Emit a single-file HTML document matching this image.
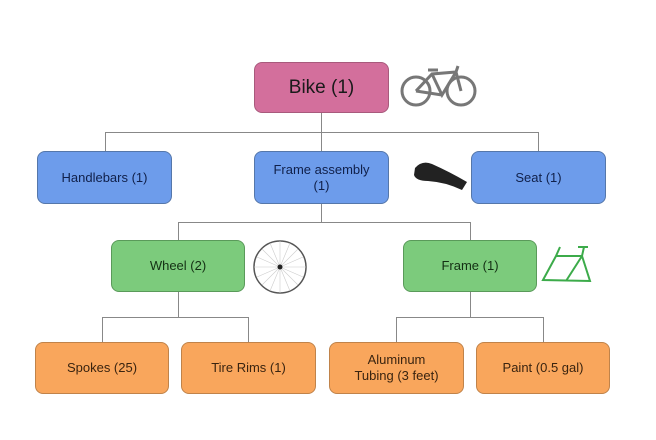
<!DOCTYPE html><html><head><style>
body{margin:0;width:656px;height:440px;background:#fff;position:relative;font-family:"Liberation Sans",sans-serif;overflow:hidden}
.b{position:absolute;box-sizing:border-box;border-radius:8px;display:flex;align-items:center;justify-content:center;text-align:center;font-size:13px;color:#1a1a1a;line-height:16px}
.p{background:#d36f9c;border:1px solid #a85a7c;font-size:19px}
.u{background:#6d9ceb;border:1px solid #5577aa;color:#10204a}
.g{background:#7ccb7c;border:1px solid #5a9a5a;color:#143014}
.o{background:#f9a65c;border:1px solid #c0834a;color:#3a2410}
.l{position:absolute;background:#888}
</style></head><body>
<div class="l" style="left:321px;top:113px;width:1px;height:38px"></div>
<div class="l" style="left:105px;top:132px;width:434px;height:1px"></div>
<div class="l" style="left:105px;top:132px;width:1px;height:19px"></div>
<div class="l" style="left:538px;top:132px;width:1px;height:19px"></div>
<div class="l" style="left:321px;top:204px;width:1px;height:18px"></div>
<div class="l" style="left:178px;top:222px;width:293px;height:1px"></div>
<div class="l" style="left:178px;top:222px;width:1px;height:18px"></div>
<div class="l" style="left:470px;top:222px;width:1px;height:18px"></div>
<div class="l" style="left:178px;top:292px;width:1px;height:25px"></div>
<div class="l" style="left:102px;top:317px;width:147px;height:1px"></div>
<div class="l" style="left:102px;top:317px;width:1px;height:25px"></div>
<div class="l" style="left:248px;top:317px;width:1px;height:25px"></div>
<div class="l" style="left:470px;top:292px;width:1px;height:25px"></div>
<div class="l" style="left:396px;top:317px;width:148px;height:1px"></div>
<div class="l" style="left:396px;top:317px;width:1px;height:25px"></div>
<div class="l" style="left:543px;top:317px;width:1px;height:25px"></div>
<div class="b p" style="left:254px;top:62px;width:135px;height:51px">Bike (1)</div>
<div class="b u" style="left:37px;top:151px;width:135px;height:53px">Handlebars (1)</div>
<div class="b u" style="left:254px;top:151px;width:135px;height:53px">Frame assembly<br>(1)</div>
<div class="b u" style="left:471px;top:151px;width:135px;height:53px">Seat (1)</div>
<div class="b g" style="left:111px;top:240px;width:134px;height:52px">Wheel (2)</div>
<div class="b g" style="left:403px;top:240px;width:134px;height:52px">Frame (1)</div>
<div class="b o" style="left:35px;top:342px;width:134px;height:52px">Spokes (25)</div>
<div class="b o" style="left:181px;top:342px;width:135px;height:52px">Tire Rims (1)</div>
<div class="b o" style="left:329px;top:342px;width:135px;height:52px">Aluminum<br>Tubing (3 feet)</div>
<div class="b o" style="left:476px;top:342px;width:134px;height:52px">Paint (0.5 gal)</div>
<svg style="position:absolute;left:0;top:0" width="656" height="440">
<g fill="none" stroke="#777" stroke-width="3">
<circle cx="416" cy="91" r="14"/><circle cx="461" cy="91" r="14"/>
<path d="M416 91 L432 74 L456 72 L461 91 M432 74 L442 95 L456 72 M442 95 L416 91 M456 72 L458 66 M428 70 L438 70"/></g>
<path d="M415 168 Q422 160 432 164 Q450 172 467 182 L462 190 Q445 182 428 181 Q416 181 414 175Z" fill="#222"/>
<circle cx="280" cy="267" r="26" fill="#fff" stroke="#555" stroke-width="1.5"/>
<g stroke="#ccc" stroke-width="0.6"><path d="M254 267H306M280 241V293M262 249L298 285M298 249L262 285M257 257L303 277M257 277L303 257M270 243L290 291M290 243L270 291"/></g>
<circle cx="280" cy="267" r="2.5" fill="#222"/>
<g fill="none" stroke="#3cab4a" stroke-width="2"><path d="M543 280 L556 256 L582 256 L590 281 Z M556 256 L560 247 M582 256 L584 247 M578 247 L588 247 M582 256 L566 281"/></g>
</svg>
</body></html>
